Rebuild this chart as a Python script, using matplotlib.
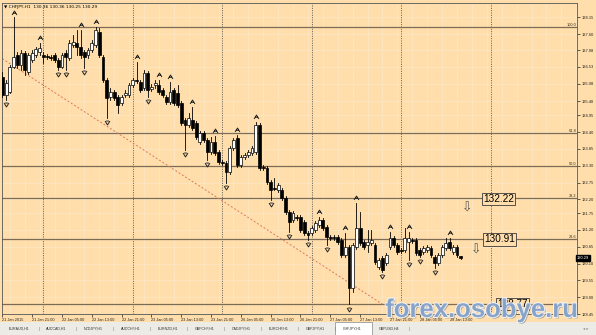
import matplotlib
matplotlib.use('Agg')
import matplotlib.pyplot as plt
import matplotlib.patheffects as pe
from matplotlib.patches import Rectangle
from matplotlib.path import Path
from matplotlib.transforms import offset_copy

# CHFJPY H1, 21 Jan 2015 13:00 .. 28 Jan 2015 16:00 (bars)
opens = [136.21, 135.62, 135.72, 136.53, 136.92, 136.60, 136.99, 136.37, 136.76, 136.92,
         137.02, 136.92, 136.89, 136.86, 136.92, 136.76, 136.53, 136.99, 136.83, 137.25,
         137.32, 137.19, 137.02, 136.92, 137.09, 137.25, 137.68, 136.86, 136.11, 135.55,
         135.72, 135.55, 135.36, 135.62, 135.62, 135.94, 136.11, 136.04, 135.85, 136.34,
         135.81, 135.94, 135.94, 135.78, 135.55, 135.39, 135.78, 135.68, 135.36, 134.80,
         134.64, 134.80, 134.70, 134.08, 134.38, 134.15, 133.75, 134.08, 133.75, 133.43,
         133.40, 133.10, 133.89, 134.21, 133.33, 133.59, 133.66, 133.72, 133.75, 134.64,
         133.27, 133.23, 132.77, 132.58, 132.51, 132.51, 132.25, 131.79, 131.53, 131.63,
         131.63, 131.47, 131.11, 131.11, 131.21, 131.37, 131.53, 131.30, 130.98, 130.98,
         130.98, 130.88, 130.39, 130.65, 129.31, 130.65, 131.27, 130.81, 130.72, 130.78,
         130.72, 130.00, 130.29, 130.13, 130.65, 130.94, 130.72, 130.55, 130.55, 130.81,
         130.88, 130.88, 130.55, 130.49, 130.55, 130.62, 130.32, 130.13, 130.39, 130.62,
         130.81, 130.49, 130.65, 130.36]
highs = [136.37, 136.11, 136.60, 138.15, 137.02, 137.09, 137.06, 136.99, 137.09, 137.19,
         137.32, 137.02, 136.96, 136.92, 136.99, 136.83, 136.99, 137.09, 137.42, 137.58,
         137.74, 137.74, 137.09, 137.15, 137.42, 137.84, 137.81, 136.92, 136.17, 135.85,
         135.78, 135.62, 135.62, 135.78, 136.01, 136.17, 136.70, 136.11, 136.43, 136.40,
         135.98, 136.11, 136.11, 135.85, 135.62, 136.04, 135.85, 135.94, 135.42, 134.87,
         135.03, 135.23, 134.77, 134.44, 134.44, 134.21, 134.25, 134.28, 133.82, 133.49,
         133.46, 133.95, 134.21, 134.31, 133.66, 133.72, 133.82, 133.95, 134.74, 134.70,
         133.33, 133.30, 132.84, 132.91, 132.74, 132.58, 132.32, 131.86, 131.83, 131.70,
         131.70, 131.53, 131.17, 131.34, 131.50, 131.63, 131.60, 131.37, 131.04, 131.04,
         131.04, 130.94, 131.11, 130.72, 130.78, 132.08, 131.79, 130.88, 131.21, 131.21,
         130.78, 130.29, 130.36, 130.45, 131.14, 131.01, 130.78, 130.62, 131.27, 131.14,
         130.94, 130.94, 130.62, 130.68, 130.72, 130.68, 130.39, 130.45, 130.72, 130.94,
         130.94, 130.72, 130.72, 130.36]
lows = [135.55, 135.45, 135.68, 136.50, 136.50, 136.43, 136.27, 136.30, 136.70, 136.86,
        136.92, 136.66, 136.79, 136.76, 136.70, 136.43, 136.50, 136.43, 136.76, 137.19,
        136.92, 136.83, 136.50, 136.83, 137.02, 137.19, 136.86, 136.04, 134.87, 135.45,
        135.45, 135.03, 135.29, 135.55, 135.55, 135.88, 136.01, 135.72, 135.78, 135.55,
        135.75, 135.85, 135.65, 135.55, 135.32, 135.32, 135.29, 135.23, 134.64, 133.82,
        134.57, 134.47, 134.18, 134.02, 134.08, 133.49, 133.69, 133.66, 133.36, 133.33,
        132.74, 133.04, 133.82, 133.27, 133.27, 133.53, 133.59, 133.66, 133.69, 133.17,
        133.17, 132.71, 132.19, 132.51, 132.45, 132.19, 131.73, 131.14, 131.47, 131.53,
        131.14, 131.04, 130.88, 131.04, 131.14, 131.30, 131.21, 130.72, 130.88, 130.88,
        130.75, 130.32, 130.32, 128.77, 129.18, 130.59, 130.72, 130.59, 130.49, 130.72,
        130.09, 129.93, 129.83, 130.06, 130.59, 130.65, 130.42, 130.45, 130.49, 130.23,
        130.78, 130.39, 130.32, 130.42, 130.49, 130.32, 129.96, 130.06, 130.32, 130.55,
        130.55, 130.42, 130.32, 130.25]
closes = [135.62, 136.01, 136.53, 136.86, 136.60, 136.99, 136.43, 136.92, 136.99, 137.12,
          137.15, 136.86, 136.86, 136.83, 136.76, 136.53, 136.92, 136.86, 137.32, 137.35,
          137.19, 136.92, 136.86, 137.09, 137.32, 137.74, 136.92, 136.11, 135.52, 135.72,
          135.52, 135.29, 135.55, 135.68, 135.94, 136.11, 136.08, 135.78, 136.34, 135.78,
          135.88, 136.01, 135.72, 135.62, 135.39, 135.72, 135.36, 135.29, 134.70, 134.64,
          134.87, 134.54, 134.25, 134.38, 134.15, 133.75, 134.08, 133.72, 133.43, 133.40,
          133.10, 133.89, 134.15, 133.33, 133.59, 133.66, 133.75, 133.89, 134.64, 133.23,
          133.23, 132.77, 132.51, 132.55, 132.68, 132.25, 131.79, 131.47, 131.76, 131.60,
          131.21, 131.11, 131.04, 131.27, 131.43, 131.53, 131.27, 130.98, 130.94, 130.94,
          130.81, 130.39, 130.65, 129.31, 130.72, 131.27, 130.78, 130.65, 130.81, 130.88,
          130.16, 130.23, 129.90, 130.39, 130.94, 130.72, 130.49, 130.52, 130.94, 130.94,
          130.85, 130.45, 130.39, 130.62, 130.65, 130.39, 130.13, 130.39, 130.65, 130.78,
          130.62, 130.65, 130.39, 130.29]

# bars carrying a fractal arrow
up_fractals = [3, 10, 21, 25, 36, 42, 45, 51, 57, 63, 68, 85, 92, 95, 104, 109, 120]
down_fractals = [1, 15, 17, 22, 28, 39, 49, 55, 60, 72, 77, 82, 87, 93, 102, 109, 112, 116]

# fibonacci retracement
fib_low = 128.77
fib_high = 137.82
fib_start_bar = -13
fib_end_bar = 102
fib_levels = [0.0, 23.6, 38.2, 50.0, 61.8, 100.0]

price_ticks = [138.15, 137.60, 137.08, 136.53, 135.98, 135.40, 134.95, 134.40, 133.85, 133.30,
               132.75, 132.20, 131.75, 131.20, 130.65, 130.10, 129.55, 129.00, 128.45]
time_label_bars = [0, 8, 16, 24, 32, 40, 48, 56, 64, 72, 80, 88, 96, 104, 112, 120]
time_labels = ['21 Jan 2015', '21 Jan 21:00', '22 Jan 05:00', '22 Jan 13:00', '22 Jan 21:00',
               '23 Jan 05:00', '23 Jan 13:00', '23 Jan 21:00', '26 Jan 05:00', '26 Jan 13:00',
               '26 Jan 21:00', '27 Jan 05:00', '27 Jan 13:00', '27 Jan 21:00', '28 Jan 05:00',
               '28 Jan 13:00']
day_start_bars = [11, 35, 59, 83, 107, 131]

tabs = ['EURAUD,H1', 'AUDCAD,H1', 'NZDJPY,H1', 'AUDCHF,H1', 'EURNZD,H1', 'GBPCHF,H1',
        'CADJPY,H1', 'EURCHF,H1', 'GBPJPY,H1', 'CHFJPY,H1', 'GBPUSD,H4']
active_tab = 'CHFJPY,H1'

notes = [(129.0, 132.21, '132.22'), (129.2, 130.89, '130.91'), (132.7, 128.77, '128.77')]
arrows = [(124.7, 131.92), (127.1, 130.55)]

W, H = 596, 335
BG = '#FFDEAB'
FIB = '#7d6b55'
FONT = 'Liberation Sans'

fig = plt.figure(figsize=(W / 100, H / 100), dpi=100)
fig.patch.set_facecolor(BG)
ax = fig.add_axes([2 / W, 21 / H, 575 / W, 311 / H])
ax.set_facecolor(BG)
ax.set_xlim(-0.1, 154.2)
ax.set_ylim(128.46, 138.62)

# grid
for b in range(-2, 155, 4):
    ax.axvline(b, color='#fbe6c2', lw=0.6, zorder=0)
for p in price_ticks:
    ax.axhline(p, color='#fbe6c2', lw=0.6, zorder=0)

# day separators
for b in day_start_bars:
    ax.axvline(b, color='#4a4a4a', lw=0.6, ls=(0, (1.2, 1.6)), zorder=1)

# fibonacci
rng = fib_high - fib_low
for lv in fib_levels:
    y = fib_low + rng * lv / 100
    ax.axhline(y, color=FIB, lw=0.9, zorder=2)
    if lv > 0:
        ax.text(154.0, y, '%.1f' % lv, fontsize=2.8, family=FONT, ha='right', va='bottom',
                color='#3a3020', zorder=3)
ax.plot([fib_start_bar, fib_end_bar], [fib_high, fib_low], color='#e0785a', lw=0.7,
        ls=(0, (2, 2)), zorder=2)

# candles
for i in range(len(opens)):
    o, h, l, c = opens[i], highs[i], lows[i], closes[i]
    ax.plot([i, i], [l, h], color='black', lw=0.6, zorder=4)
    bottom = min(o, c)
    height = max(abs(c - o), 0.015)
    ax.add_patch(Rectangle((i - 0.38, bottom), 0.76, height,
                           facecolor='white' if c >= o else 'black',
                           edgecolor='black', lw=0.5, zorder=5))

# fractal arrows
up_path = Path([(-1, -0.6), (0, 1), (1, -0.6), (-0.55, 0.1), (0.55, 0.1)],
               [Path.MOVETO, Path.LINETO, Path.LINETO, Path.MOVETO, Path.LINETO])
down_path = Path([(-1, 0.6), (0, -1), (1, 0.6), (-0.55, 0.6), (0.55, 0.6)],
                 [Path.MOVETO, Path.LINETO, Path.LINETO, Path.MOVETO, Path.LINETO])
up_tr = offset_copy(ax.transData, fig=fig, x=0, y=4.5, units='dots')
dn_tr = offset_copy(ax.transData, fig=fig, x=0, y=-4.5, units='dots')
ax.plot(up_fractals, [highs[i] for i in up_fractals], ls='none', marker=up_path, ms=3.5,
        mfc='none', mec='#222222', mew=0.7, transform=up_tr, zorder=6)
ax.plot(down_fractals, [lows[i] for i in down_fractals], ls='none', marker=down_path, ms=3.5,
        mfc='none', mec='#222222', mew=0.7, transform=dn_tr, zorder=6)

# text objects
for b, p, t in notes:
    ax.text(b, p, t, fontsize=7.2, family=FONT, ha='left', va='center', color='black', zorder=7,
            bbox=dict(boxstyle='square,pad=0.12', fc=BG, ec='#3a3a3a', lw=0.6))
for b, p in arrows:
    ax.text(b, p, '\u21e9', fontsize=9, family='DejaVu Sans', ha='center', va='center',
            color='#555555', zorder=7)

# price axis
ax.yaxis.tick_right()
ax.set_yticks(price_ticks)
ax.set_yticklabels(['%.2f' % p for p in price_ticks])
ax.tick_params(axis='y', length=2, width=0.5, pad=1.5, labelsize=2.9, colors='#222222')
for lab in ax.get_yticklabels():
    lab.set_family(FONT)
ax.text(1.0, closes[-1], '%.2f' % closes[-1], transform=ax.get_yaxis_transform(),
        fontsize=2.9, family=FONT, color='white', ha='left', va='center', zorder=8,
        bbox=dict(boxstyle='square,pad=0.25', fc='black', ec='black'), clip_on=False)

# time axis
ax.set_xticks(time_label_bars)
ax.set_xticklabels(time_labels)
ax.tick_params(axis='x', length=2, width=0.5, pad=1.2, labelsize=2.8, colors='#222222')
for lab in ax.get_xticklabels():
    lab.set_family(FONT)
    lab.set_horizontalalignment('left')

for s in ax.spines.values():
    s.set_color('#555555')
    s.set_linewidth(0.6)

# header
ax.text(0.004, 0.992, '\u25bc CHFJPY,H1  %.2f %.2f %.2f %.2f' % (opens[-1], highs[-1], lows[-1], closes[-1]),
        transform=ax.transAxes, fontsize=3.1, family=['DejaVu Sans'], ha='left', va='top',
        color='black', zorder=8)

# watermark
fig.text(482 / W, 1 - 317 / H, 'forex.osobye.ru', fontsize=18.5, family=FONT,
         weight='bold', color='#86a2c8', ha='center', va='baseline', alpha=0.95, zorder=10,
         path_effects=[pe.SimplePatchShadow(offset=(1, -1), shadow_rgbFace='#556070', alpha=0.5),
                       pe.withStroke(linewidth=1.4, foreground='#f4f6fa')])

# tab bar
fig.patches.append(Rectangle((0, 0), 1, 13 / H, transform=fig.transFigure,
                             fc='#ecebe6', ec='none', zorder=0))
x = 5
for t in tabs:
    w = 33
    if t == active_tab:
        fig.patches.append(Rectangle(((x - 3) / W, 0), (w + 4) / W, 13 / H,
                                     transform=fig.transFigure, fc='white', ec='#9a9a9a',
                                     lw=0.6, zorder=1))
    fig.text((x + w / 2 - 2) / W, 6 / H, t, fontsize=2.6, family=FONT, ha='center',
             va='center', color='#333333')
    if t != active_tab:
        fig.text((x + w + 1) / W, 6 / H, '|', fontsize=3.2, family=FONT, ha='center',
                 va='center', color='#777777')
    x += 37
fig.text(586 / W, 6 / H, '\u25c2 \u25b8', fontsize=3, family='DejaVu Sans', ha='center',
         va='center', color='#888888')

fig.savefig('out.png', dpi=100, facecolor=BG)
